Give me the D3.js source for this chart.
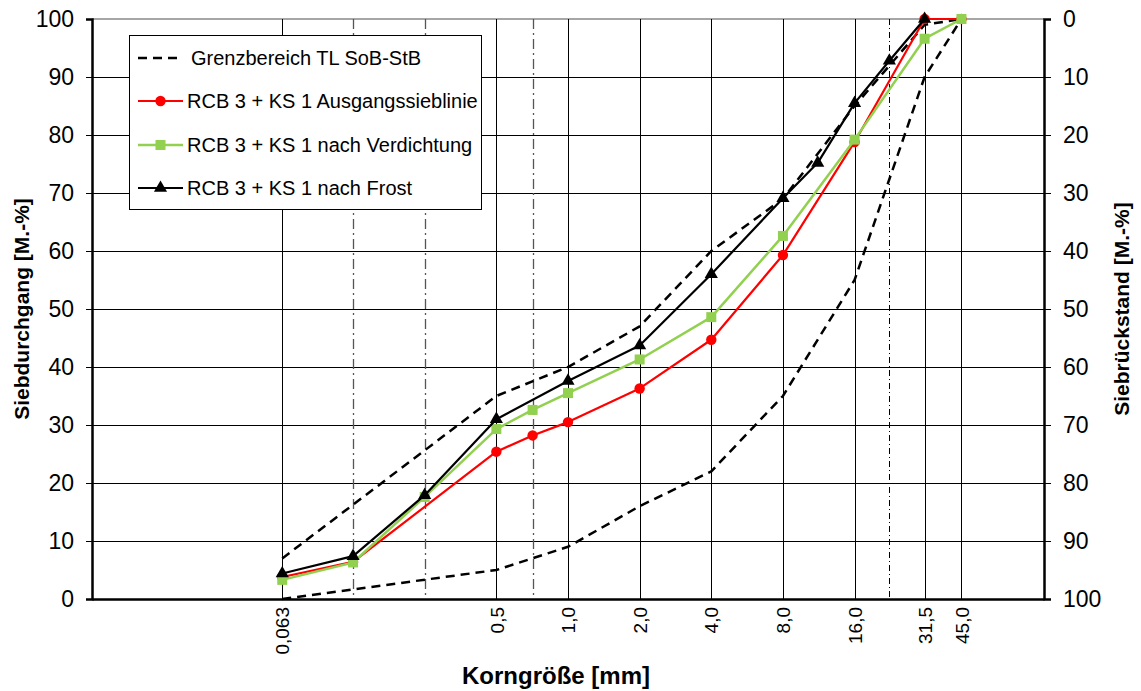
<!DOCTYPE html>
<html><head><meta charset="utf-8">
<script src="https://cdn.jsdelivr.net/npm/d3@7"></script>
<style>
body{margin:0;background:#fff}
svg{display:block}
text{font-family:Arial,"Liberation Sans",sans-serif;fill:#000}
</style>
</head><body>
<svg id="c" width="1141" height="691"></svg>
<script>
// ---- data ----
const xTickValues = [0.063, 0.5, 1, 2, 4, 8, 16, 31.5, 45];
const xTickLabels = ["0,063", "0,5", "1,0", "2,0", "4,0", "8,0", "16,0", "31,5", "45,0"];
const dashDotSieves = [0.125, 0.25, 0.71];
const fineDashDotSieves = [22.4];
const yTickValues = [0, 10, 20, 30, 40, 50, 60, 70, 80, 90, 100];

const limitX = [0.063, 0.5, 1, 2, 4, 8, 16, 31.5, 45];
const lowerLimit = [0, 5, 9, 16, 22, 35, 55, 90, 100];
const upperLimit = [7, 35, 40, 47, 60, 69, 85, 99, 100];

const ausgangX = [0.063, 0.125, 0.5, 0.71, 1, 2, 4, 8, 16, 31.5, 45];
const ausgangY = [3.8, 6.4, 25.4, 28.2, 30.5, 36.3, 44.7, 59.3, 78.8, 100, 100];

const verdX = [0.063, 0.125, 0.25, 0.5, 0.71, 1, 2, 4, 8, 16, 31.5, 45];
const verdY = [3.3, 6.3, 17.6, 29.3, 32.6, 35.5, 41.3, 48.6, 62.6, 79.2, 96.6, 100];

const frostX = [0.063, 0.125, 0.25, 0.5, 1, 2, 4, 8, 11.2, 16, 22.4, 31.5];
const frostY = [4.4, 7.4, 17.9, 31.0, 37.6, 43.7, 56.0, 69.1, 75.2, 85.5, 92.8, 100];

const legendLabels = ["Grenzbereich TL SoB-StB", "RCB 3 + KS 1 Ausgangssieblinie",
  "RCB 3 + KS 1 nach Verdichtung", "RCB 3 + KS 1 nach Frost"];

// ---- layout ----
const L = 92, R = 1044, T = 19, B = 599;
const svg = d3.select("#c");
const x = d3.scaleLog().domain([0.01, 100]).range([L, R]);
const y = d3.scaleLinear().domain([0, 100]).range([B, T]);
const yR = d3.scaleLinear().domain([100, 0]).range([B, T]);

const red = "#ff0000", green = "#92d050", black = "#000000";

// horizontal grid
svg.append("g").selectAll("line").data(yTickValues.filter(v => v > 0)).join("line")
  .attr("x1", L).attr("x2", R).attr("y1", d => y(d)).attr("y2", d => y(d))
  .attr("stroke", d => d === 100 ? "#a6a6a6" : "#000")
  .attr("stroke-width", d => d === 100 ? 2 : 1)
  .attr("shape-rendering", "crispEdges");

// vertical solid grid
svg.append("g").selectAll("line").data(xTickValues).join("line")
  .attr("x1", d => Math.round(x(d)) + 0.5).attr("x2", d => Math.round(x(d)) + 0.5)
  .attr("y1", T).attr("y2", B)
  .attr("stroke", "#000").attr("stroke-width", 1);

// dash-dot grid
svg.append("g").selectAll("line").data(dashDotSieves).join("line")
  .attr("x1", d => Math.round(x(d)) + 0.5).attr("x2", d => Math.round(x(d)) + 0.5)
  .attr("y1", T).attr("y2", B)
  .attr("stroke", "#555").attr("stroke-width", 1.3)
  .attr("stroke-dasharray", "10,4,2,4");
svg.append("g").selectAll("line").data(fineDashDotSieves).join("line")
  .attr("x1", d => Math.round(x(d)) + 0.5).attr("x2", d => Math.round(x(d)) + 0.5)
  .attr("y1", T).attr("y2", B)
  .attr("stroke", "#000").attr("stroke-width", 1)
  .attr("stroke-dasharray", "6,3,1,3");

// axes
const yAxisL = svg.append("g").attr("transform", `translate(${L},0)`)
  .call(d3.axisLeft(y).tickValues(yTickValues).tickSize(6).tickPadding(12).tickFormat(d3.format("d")));
const yAxisR = svg.append("g").attr("transform", `translate(${R},0)`)
  .call(d3.axisRight(yR).tickValues(yTickValues).tickSize(7).tickPadding(12).tickFormat(d3.format("d")));
const xAxis = svg.append("g").attr("transform", `translate(0,${B})`)
  .call(d3.axisBottom(x).tickValues(xTickValues).tickSize(0).tickFormat((d, i) => xTickLabels[i]));

[yAxisL, yAxisR].forEach(g => {
  g.select(".domain").attr("stroke", "#000").attr("stroke-width", 2.5);
  g.selectAll(".tick line").attr("stroke", "#000").attr("stroke-width", 1);
  g.selectAll("text").attr("font-size", 23).attr("font-family", "Arial, 'Liberation Sans', sans-serif");
});
xAxis.select(".domain").attr("stroke", "#000").attr("stroke-width", 2.5);
xAxis.selectAll(".tick text")
  .attr("font-size", 19).attr("font-family", "Arial, 'Liberation Sans', sans-serif")
  .attr("transform", "rotate(-90)")
  .attr("text-anchor", "end")
  .attr("x", -8).attr("y", 0).attr("dy", "0.35em");

// limit lines (dashed)
const line = d3.line().x(d => x(d[0])).y(d => y(d[1]));
[lowerLimit, upperLimit].forEach(arr => {
  svg.append("path").datum(limitX.map((v, i) => [v, arr[i]]))
    .attr("d", line).attr("fill", "none")
    .attr("stroke", "#000").attr("stroke-width", 2.5).attr("stroke-dasharray", "9,6");
});

const triangle = d3.symbol().type(d3.symbolTriangle).size(75);
const square = d3.symbol().type(d3.symbolSquare).size(100);
const circle = d3.symbol().type(d3.symbolCircle).size(85);

function series(xs, ys, color, width, sym) {
  const pts = xs.map((v, i) => [v, ys[i]]);
  svg.append("path").datum(pts).attr("d", line).attr("fill", "none")
    .attr("stroke", color).attr("stroke-width", width).attr("stroke-linejoin", "round");
  svg.append("g").selectAll("path").data(pts).join("path")
    .attr("d", sym).attr("fill", color)
    .attr("transform", d => `translate(${x(d[0])},${y(d[1])})`);
}
series(ausgangX, ausgangY, red, 2.2, circle);
series(verdX, verdY, green, 2.5, square);
series(frostX, frostY, black, 2.2, triangle);

// legend
const lg = svg.append("g");
lg.append("rect").attr("x", 129.5).attr("y", 35.5).attr("width", 352).attr("height", 174)
  .attr("fill", "#fff").attr("stroke", "#000").attr("stroke-width", 1);
const rowsY = [58, 101, 145, 188];
const lx1 = 138, lx2 = 183;
// row 0 dashed
lg.append("line").attr("x1", lx1).attr("x2", lx2).attr("y1", rowsY[0]).attr("y2", rowsY[0])
  .attr("stroke", "#000").attr("stroke-width", 2.5).attr("stroke-dasharray", "9,6");
const legSpec = [null, [red, 2.2, circle], [green, 2.5, square], [black, 2.2, triangle]];
legSpec.forEach((s, i) => {
  if (!s) return;
  lg.append("line").attr("x1", lx1).attr("x2", lx2).attr("y1", rowsY[i]).attr("y2", rowsY[i])
    .attr("stroke", s[0]).attr("stroke-width", s[1]);
  lg.append("path").attr("d", s[2]).attr("fill", s[0])
    .attr("transform", `translate(${(lx1 + lx2) / 2},${rowsY[i]})`);
});
lg.selectAll("text.leg").data(legendLabels).join("text").attr("class", "leg")
  .attr("x", (d, i) => i === 0 ? 191 : 187).attr("y", (d, i) => rowsY[i])
  .attr("dy", "0.35em").attr("font-size", 20).text(d => d);

// axis titles
svg.append("text").attr("transform", `translate(22,${(T + B) / 2}) rotate(-90)`)
  .attr("text-anchor", "middle").attr("dy", "0.35em")
  .attr("font-size", 21).attr("font-weight", "bold").text("Siebdurchgang [M.-%]");
svg.append("text").attr("transform", `translate(1122,${(T + B) / 2}) rotate(-90)`)
  .attr("text-anchor", "middle").attr("dy", "0.35em")
  .attr("font-size", 21).attr("font-weight", "bold").text("Siebrückstand [M.-%]");
svg.append("text").attr("x", 556).attr("y", 676)
  .attr("text-anchor", "middle").attr("dy", "0.35em")
  .attr("font-size", 24).attr("font-weight", "bold").text("Korngröße [mm]");
</script>
</body></html>
